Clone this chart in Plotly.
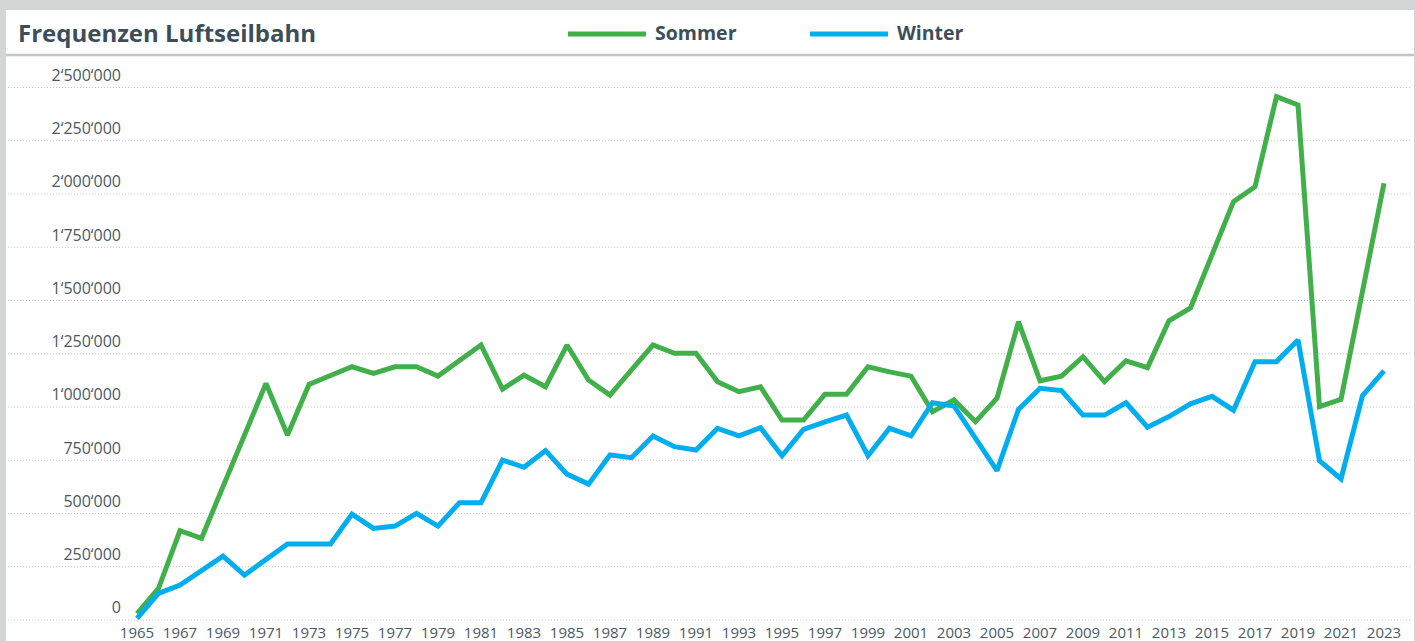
import plotly.graph_objects as go

years = list(range(1965, 2024))

sommer = [30000, 149000, 419000, 383000, 626000, 868000, 1111000, 868000, 1106000, 1148000,
          1189000, 1158000, 1189000, 1189000, 1145000, 1218000, 1291000, 1084000, 1150000, 1095000,
          1291000, 1127000, 1056000, 1174000, 1291000, 1252000, 1252000, 1119000, 1072000, 1095000,
          939000, 939000, 1060000, 1060000, 1189000, 1165000, 1145000, 978000, 1033000, 931000,
          1041000, 1400000, 1123000, 1145000, 1236000, 1119000, 1217000, 1185000, 1405000, 1465000,
          1710000, 1964000, 2034000, 2457000, 2418000, 1002000, 1036000, 1540000, 2050000]

winter = [8000, 125000, 164000, 232000, 300000, 211000, 284000, 357000, 357000, 357000,
          497000, 430000, 441000, 501000, 441000, 551000, 551000, 751000, 717000, 795000,
          685000, 638000, 775000, 762000, 864000, 814000, 798000, 900000, 865000, 903000,
          771000, 895000, 930000, 962000, 771000, 900000, 865000, 1020000, 1005000, 853000,
          701000, 989000, 1088000, 1077000, 962000, 962000, 1020000, 905000, 955000, 1015000,
          1050000, 985000, 1213000, 1213000, 1315000, 748000, 662000, 1053000, 1170000]

y_tick_vals = [0, 250000, 500000, 750000, 1000000, 1250000, 1500000, 1750000, 2000000, 2250000, 2500000]
y_tick_text = ["0", "250‘000", "500‘000", "750‘000", "1‘000‘000", "1‘250‘000", "1‘500‘000",
               "1‘750‘000", "2‘000‘000", "2‘250‘000", "2‘500‘000"]
x_tick_vals = list(range(1965, 2024, 2))
x_tick_text = [str(v) for v in x_tick_vals]

series_names = ["Sommer", "Winter"]
series_colors = ["#41b04b", "#00aeef"]
title_text = "Frequenzen Luftseilbahn"
text_color = "#3c4e5a"
tick_color = "#4a5964"

W, H = 1416, 641
ML, MR, MT, MB = 128, 5, 60, 19
PW, PH = W - ML - MR, H - MT - MB
Y0_PX = 620          # pixel row of value 0
PX_PER_VAL = 532.5 / 2500000
X0_PX, PX_PER_YEAR = 137, 21.5


def px(x):
    return (x - ML) / PW


def py(y):
    return (H - MB - y) / PH


fig = go.Figure()
for name, vals, col in zip(series_names, [sommer, winter], series_colors):
    fig.add_trace(go.Scatter(x=years, y=vals, name=name, mode="lines",
                             line=dict(color=col, width=5), showlegend=False,
                             hoverinfo="x+y"))

shapes = []
# gridlines (extend to the left of the plot)
for v in y_tick_vals:
    shapes.append(dict(type="line", xref="paper", yref="y", x0=px(8), x1=1, y0=v, y1=v,
                       line=dict(color="#c4c4c4", width=1, dash="1px,2px"), layer="below"))
# frame
shapes.append(dict(type="rect", xref="paper", yref="paper", x0=px(0), x1=px(W), y0=py(0), y1=py(10),
                   fillcolor="#d4d5d7", line=dict(width=0)))
shapes.append(dict(type="rect", xref="paper", yref="paper", x0=px(0), x1=px(6), y0=py(0), y1=py(H),
                   fillcolor="#d4d5d7", line=dict(width=0)))
shapes.append(dict(type="rect", xref="paper", yref="paper", x0=px(1414), x1=px(W), y0=py(0), y1=py(H),
                   fillcolor="#d4d5d7", line=dict(width=0)))
shapes.append(dict(type="line", xref="paper", yref="paper", x0=px(6), x1=px(1414), y0=py(55), y1=py(55),
                   line=dict(color="#c3c4c6", width=2.5)))
# legend samples
leg_x = [(568, 646), (810, 888)]
for (a, b), col in zip(leg_x, series_colors):
    shapes.append(dict(type="line", xref="paper", yref="paper", x0=px(a), x1=px(b), y0=py(34), y1=py(34),
                       line=dict(color=col, width=5)))

annotations = [
    dict(text=f"<b>{title_text}</b>", xref="paper", yref="paper", x=px(16), y=py(33),
         xanchor="left", yanchor="middle", showarrow=False,
         font=dict(family="Open Sans", size=24, color=text_color)),
]
for (a, b), name in zip(leg_x, series_names):
    annotations.append(dict(text=f"<b>{name}</b>", xref="paper", yref="paper", x=px(b + 7), y=py(33),
                            xanchor="left", yanchor="middle", showarrow=False,
                            font=dict(family="Open Sans", size=19.5, color=text_color)))

fig.update_layout(
    width=W, height=H,
    margin=dict(l=ML, r=MR, t=MT, b=MB, pad=0, autoexpand=False),
    paper_bgcolor="white", plot_bgcolor="rgba(0,0,0,0)",
    shapes=shapes, annotations=annotations,
    font=dict(family="Open Sans", color=text_color),
    xaxis=dict(range=[1965 + (ML - X0_PX) / PX_PER_YEAR, 1965 + (W - MR - X0_PX) / PX_PER_YEAR],
               tickvals=x_tick_vals, ticktext=x_tick_text, showgrid=False, zeroline=False,
               showline=False, ticks="", automargin=False,
               tickfont=dict(size=15, color=tick_color)),
    yaxis=dict(range=[(Y0_PX - (H - MB)) / PX_PER_VAL, (Y0_PX - MT) / PX_PER_VAL],
               tickvals=y_tick_vals, ticktext=y_tick_text, showgrid=False, zeroline=False,
               showline=False, ticks="", ticklabelposition="outside top", automargin=False,
               ticklabelstandoff=6, ticklabelshift=-1,
               tickfont=dict(size=16, color=tick_color)),
)

fig.write_html("out.html", config={"displayModeBar": False},
               post_script="document.body.style.margin='0';document.body.style.overflow='hidden';")
